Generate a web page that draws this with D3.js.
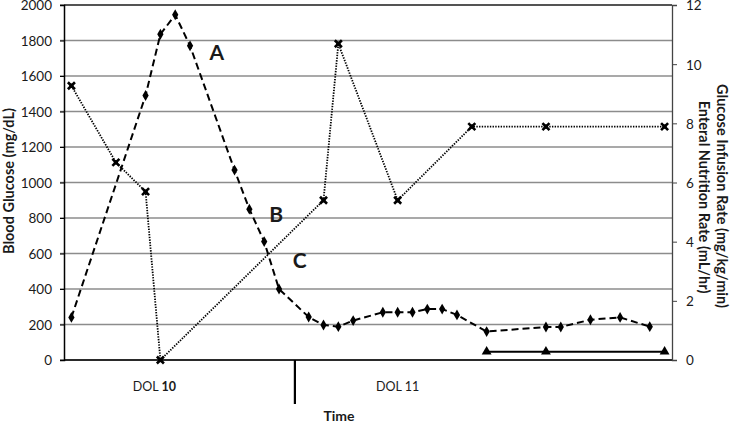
<!DOCTYPE html>
<html><head><meta charset="utf-8">
<script src="https://cdn.jsdelivr.net/npm/d3@7"></script>
<style>
html,body{margin:0;padding:0;background:#fff;}
text{font-family:Lato,"Open Sans",sans-serif;fill:#1a1a1a;}
</style></head>
<body><svg id="c" width="732" height="423"></svg>
<script>
// time slots along the x axis (category axis)
const categories = ["0","1","2","3","4","5","6","7","8","9","10","11","12","13","14","15","16","17","18","19","20","21","22","23","24","25","26","27","28","29","30","31","32","33","34","35","36","37","38","39","40"];
// Blood glucose (mg/dL), left axis
const bgSlots  = [0,5,6,7,8,11,12,13,14,16,17,18,19,21,22,23,24,25,26,28,32,33,35,37,39];
const bgValues = [240,1490,1835,1945,1770,1070,850,667,400,242,197,188,222,269,269,269,287,287,254,160,186,186,227,240,188];
// Glucose infusion rate (mg/kg/min), right axis
const girSlots  = [0,3,5,6,17,18,22,27,32,40];
const girValues = [9.27,6.68,5.69,0,5.40,10.69,5.40,7.89,7.89,7.89];
// Enteral nutrition rate (mL/hr), right axis
const enSlots  = [28,32,40];
const enValues = [0.28,0.28,0.28];
// axis ticks
const leftTicks  = [0,200,400,600,800,1000,1200,1400,1600,1800,2000];
const rightTicks = [0,2,4,6,8,10,12];
// annotations: letter, slot position, value on left axis
const letters = ["A","B","C"];
const letterSlots = [9.8,13.8,15.4];
const letterValues = [1690,780,520];
const dayLabels = [["DOL ","10"],["DOL ","11"]];
const daySlots = [5.6,22.0];
const daySeparatorSlot = 15.07;

const svg = d3.select("#c");
const L = 64, R = 672, T = 5, B = 360;
const x = d3.scaleBand().domain(categories).range([L, R]);
const cx = i => x(categories[0]) + (i + 0.5) * x.step();
const yL = d3.scaleLinear().domain([0, 2000]).range([B, T]);
const yR = d3.scaleLinear().domain([0, 12]).range([B, T]);

// gridlines
svg.append("g").selectAll("line").data(leftTicks).join("line")
  .attr("x1", L - 4).attr("x2", R).attr("y1", d => yL(d)).attr("y2", d => yL(d))
  .attr("stroke", "#8c8c8c").attr("stroke-width", 1.3);

// plot frame
svg.append("line").attr("x1", L).attr("x2", R).attr("y1", T).attr("y2", T).attr("stroke", "#000").attr("stroke-width", 1.2);
svg.append("line").attr("x1", L).attr("x2", R).attr("y1", B).attr("y2", B).attr("stroke", "#000").attr("stroke-width", 1.5);

// left axis
const gl = svg.append("g").attr("transform", `translate(${L},0)`)
  .call(d3.axisLeft(yL).tickValues(leftTicks).tickFormat(d3.format("d")).tickSize(4).tickPadding(8));
gl.select(".domain").attr("stroke", "#000").attr("stroke-width", 1.5);
gl.selectAll(".tick line").attr("stroke", "#000");
gl.selectAll("text").attr("font-size", 13.5).style("font-family", "Lato").attr("dy", "0.36em");

// right axis
const gr = svg.append("g").attr("transform", `translate(${R},0)`)
  .call(d3.axisRight(yR).tickValues(rightTicks).tickFormat(d3.format("d")).tickSize(5).tickPadding(9));
gr.select(".domain").attr("stroke", "#444").attr("stroke-width", 1.3);
gr.selectAll(".tick line").attr("stroke", "#444");
gr.selectAll("text").attr("font-size", 13.5).style("font-family", "Lato").attr("dy", "0.36em");

// lines
const bgLine = d3.line().x((d,i) => cx(bgSlots[i])).y(d => yL(d));
const girLine = d3.line().x((d,i) => cx(girSlots[i])).y(d => yR(d));
const enLine = d3.line().x((d,i) => cx(enSlots[i])).y(d => yR(d));

svg.append("path").attr("d", girLine(girValues)).attr("fill", "none")
  .attr("stroke", "#000").attr("stroke-width", 1.8).attr("stroke-dasharray", "1.4,1.3");
svg.append("path").attr("d", bgLine(bgValues)).attr("fill", "none")
  .attr("stroke", "#000").attr("stroke-width", 2).attr("stroke-dasharray", "7,4");
svg.append("path").attr("d", enLine(enValues)).attr("fill", "none")
  .attr("stroke", "#000").attr("stroke-width", 2);

// markers
svg.append("g").selectAll("path").data(bgValues).join("path")
  .attr("transform", (d,i) => `translate(${cx(bgSlots[i])},${yL(d)})`)
  .attr("d", d3.symbol(d3.symbolDiamond, 34)).attr("fill", "#000");
const girG = svg.append("g").selectAll("g").data(girValues).join("g")
  .attr("transform", (d,i) => `translate(${cx(girSlots[i])},${yR(d)})`);
girG.append("path").attr("d", d3.symbol(d3.symbolSquare, 18)).attr("fill", "#000");
girG.append("path").attr("d", d3.symbol(d3.symbolX, 34)).attr("fill", "none").attr("stroke", "#000").attr("stroke-width", 2.6);
svg.append("g").selectAll("path").data(enValues).join("path")
  .attr("transform", (d,i) => `translate(${cx(enSlots[i])},${yR(d)})`)
  .attr("d", d3.symbol(d3.symbolTriangle, 42)).attr("fill", "#000");

// letters
svg.append("g").selectAll("text").data(letters).join("text")
  .attr("x", (d,i) => cx(letterSlots[i])).attr("y", (d,i) => yL(letterValues[i]))
  .attr("text-anchor", "middle").attr("font-size", 21).attr("font-weight", "bold")
  .style("font-family", "Lato").text(d => d);

// day labels
const dl = svg.append("g").selectAll("text").data(dayLabels).join("text")
  .attr("x", (d,i) => cx(daySlots[i])).attr("y", 391)
  .attr("text-anchor", "middle").attr("font-size", 12.5);
dl.append("tspan").text(d => d[0]);
dl.append("tspan").attr("font-weight", (d,i) => i === 0 ? "bold" : "normal").text(d => d[1]);

svg.append("line").attr("x1", cx(daySeparatorSlot)).attr("x2", cx(daySeparatorSlot))
  .attr("y1", B).attr("y2", 404).attr("stroke", "#000").attr("stroke-width", 2.2);

svg.append("text").attr("x", 339).attr("y", 421).attr("text-anchor", "middle")
  .attr("font-size", 14).attr("font-weight", "bold").text("Time");

// axis titles
svg.append("text").attr("transform", "translate(14,181) rotate(-90)")
  .attr("text-anchor", "middle").attr("font-size", 14.5).attr("font-weight", "bold")
  .text("Blood Glucose (mg/dL)");
svg.append("text").attr("transform", "translate(717,196) rotate(90)")
  .attr("text-anchor", "middle").attr("font-size", 14.5).attr("font-weight", "bold")
  .text("Glucose Infusion Rate (mg/kg/min)");
svg.append("text").attr("transform", "translate(699,197) rotate(90)")
  .attr("text-anchor", "middle").attr("font-size", 14.5).attr("font-weight", "bold")
  .text("Enteral Nutrition Rate (mL/hr)");
</script></body></html>
